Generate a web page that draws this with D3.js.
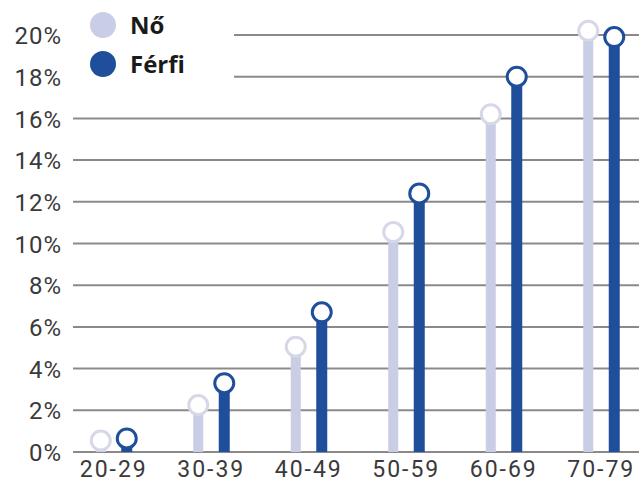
<!DOCTYPE html>
<html>
<head>
<meta charset="utf-8">
<script src="https://cdn.jsdelivr.net/npm/d3@7"></script>
<style>
  html, body { margin: 0; padding: 0; background: #fff; }
  svg { display: block; }
</style>
</head>
<body>
<svg id="chart" width="639" height="484"></svg>
<script>
// Age groups and shares (%) per sex
const ageGroups = ["20-29", "30-39", "40-49", "50-59", "60-69", "70-79"];
const noValues = [0.55, 2.25, 5.05, 10.55, 16.2, 20.2];
const ferfiValues = [0.65, 3.3, 6.7, 12.4, 18.0, 19.9];
const seriesNames = ["Nő", "Férfi"];
const yTicks = [0, 2, 4, 6, 8, 10, 12, 14, 16, 18, 20];

const colors = { "Nő": "#c9cde5", "Férfi": "#1f4e9b" };
const ringColors = { "Nő": "#d6d8e8", "Férfi": "#1f4e9b" };

const svg = d3.select("#chart");
const W = 639, H = 484;

const y = d3.scaleLinear().domain([0, 20]).range([452, 35]);
const x0 = d3.scaleBand().domain(ageGroups).range([64, 649]);
const x1 = d3.scalePoint().domain(seriesNames).range([-12, 14]);

// Value labels on the left
const yAxis = d3.axisLeft(y).tickValues(yTicks).tickFormat(d => d + "%").tickSize(0).tickPadding(0);
const gy = svg.append("g").attr("transform", "translate(62,0)").call(yAxis);
gy.select(".domain").remove();
gy.selectAll("text")
  .attr("font-family", "Roboto, sans-serif")
  .attr("font-size", 24)
  .attr("letter-spacing", 1)
  .attr("fill", "#3a3a3a")
  .attr("dy", "0.36em");

// Horizontal gridlines
svg.append("g").selectAll("line")
  .data(yTicks)
  .join("line")
  .attr("x1", 73).attr("x2", W)
  .attr("y1", d => y(d)).attr("y2", d => y(d))
  .attr("stroke", "#8d898a")
  .attr("stroke-width", 2);

// Category labels along the bottom
const xAxis = d3.axisBottom(x0).tickSize(0).tickPadding(0);
const gx = svg.append("g").attr("transform", "translate(1,477)").call(xAxis);
gx.select(".domain").remove();
gx.selectAll("text")
  .attr("font-family", "Roboto, sans-serif")
  .attr("font-size", 23)
  .attr("letter-spacing", 2)
  .attr("fill", "#3a3a3a")
  .attr("dy", "0");

// Lollipop bars
const rows = [];
ageGroups.forEach((g, i) => {
  rows.push({ group: g, series: "Nő", value: noValues[i] });
  rows.push({ group: g, series: "Férfi", value: ferfiValues[i] });
});
const cx = d => x0(d.group) + x0.bandwidth() / 2 + x1(d.series);

svg.append("g").selectAll("rect")
  .data(rows)
  .join("rect")
  .attr("x", d => cx(d) - (d.series === "Nő" ? 5 : 5.5))
  .attr("width", d => d.series === "Nő" ? 10 : 11)
  .attr("y", d => y(d.value))
  .attr("height", d => y(0) - y(d.value))
  .attr("fill", d => colors[d.series]);

svg.append("g").selectAll("circle")
  .data(rows)
  .join("circle")
  .attr("cx", cx)
  .attr("cy", d => y(d.value))
  .attr("r", 9.5)
  .attr("fill", "#fff")
  .attr("stroke", d => ringColors[d.series])
  .attr("stroke-width", 3);

// Legend on a white panel
const legend = svg.append("g");
legend.append("rect")
  .attr("x", 70).attr("y", 0).attr("width", 164).attr("height", 95)
  .attr("fill", "#fff");
seriesNames.forEach((s, i) => {
  legend.append("circle")
    .attr("cx", 103).attr("cy", 25 + i * 39).attr("r", 13)
    .attr("fill", colors[s]);
  legend.append("text")
    .attr("x", 130).attr("y", 25 + i * 39)
    .attr("dy", "0.36em")
    .attr("font-family", "'Open Sans', sans-serif")
    .attr("font-weight", "bold")
    .attr("font-size", 24)
    .attr("fill", "#1a1a1a")
    .text(s);
});
</script>
</body>
</html>
